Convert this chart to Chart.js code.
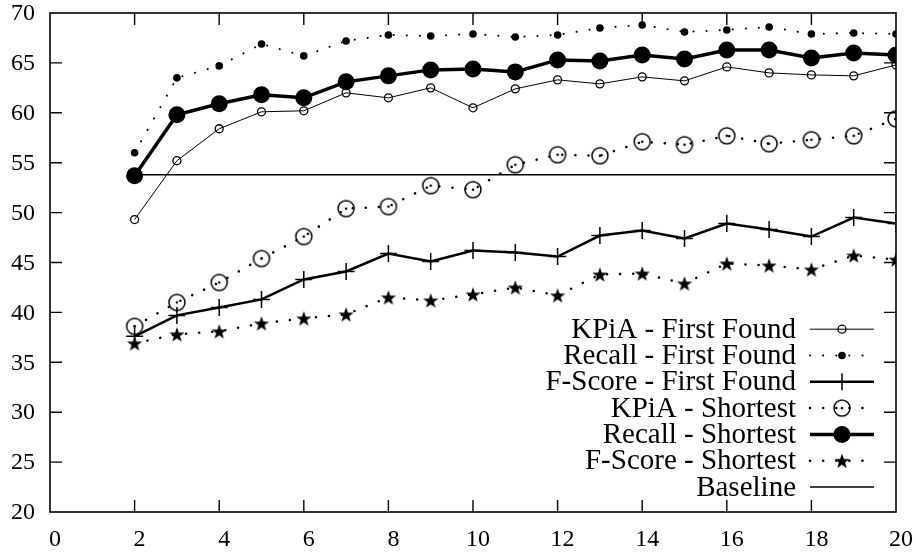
<!DOCTYPE html>
<html>
<head>
<meta charset="utf-8">
<script src="https://cdn.jsdelivr.net/npm/chart.js@4.4.1/dist/chart.umd.min.js"></script>
<style>
  body { margin: 0; background: #fff; font-family: 'Liberation Serif'; }
  #wrap { width: 916px; height: 556px; position: relative; }
  #fontwarm { position: absolute; left: -9999px; top: 0; font: 24px 'Liberation Serif'; }
</style>
</head>
<body>
<div id="wrap"><canvas id="myChart" width="916" height="556"></canvas></div>
<span id="fontwarm">KPiA - First Found 0123456789</span>
<script>
// data
var xValues = [2, 3, 4, 5, 6, 7, 8, 9, 10, 11, 12, 13, 14, 15, 16, 17, 18, 19, 20];
var kpiaFirst = [49.3, 55.2, 58.4, 60.1, 60.2, 62.0, 61.5, 62.5, 60.5, 62.4, 63.3, 62.9, 63.6, 63.2, 64.6, 64.0, 63.8, 63.7, 64.8];
var recallFirst = [56.0, 63.5, 64.7, 66.9, 65.7, 67.2, 67.8, 67.7, 67.9, 67.6, 67.8, 68.5, 68.8, 68.1, 68.3, 68.6, 67.9, 68.0, 67.9];
var fscoreFirst = [37.6, 39.7, 40.5, 41.3, 43.3, 44.1, 45.9, 45.1, 46.2, 46.0, 45.6, 47.7, 48.2, 47.4, 48.9, 48.3, 47.6, 49.5, 48.9];
var kpiaShortest = [38.6, 41.0, 43.0, 45.4, 47.6, 50.4, 50.6, 52.7, 52.3, 54.8, 55.8, 55.7, 57.1, 56.8, 57.7, 56.9, 57.3, 57.7, 59.4];
var recallShortest = [53.7, 59.8, 60.9, 61.8, 61.5, 63.1, 63.7, 64.3, 64.4, 64.1, 65.3, 65.2, 65.8, 65.4, 66.3, 66.3, 65.5, 66.0, 65.8];
var fscoreShortest = [36.9, 37.8, 38.1, 38.9, 39.4, 39.8, 41.5, 41.2, 41.8, 42.5, 41.7, 43.8, 43.9, 42.9, 44.9, 44.7, 44.3, 45.7, 45.3];
var baselineX = [2, 20];
var baselineY = [53.8, 53.8];
var seriesNames = ["KPiA - First Found", "Recall - First Found", "F-Score - First Found",
                   "KPiA - Shortest", "Recall - Shortest", "F-Score - Shortest", "Baseline"];

var FONT = "'Liberation Serif'";

function pts(xs, ys) {
    return xs.map(function (x, i) { return { x: x, y: ys[i] }; });
}

// circle with a dot in the middle
function dottedCircle() {
    var c = document.createElement("canvas");
    c.width = 20; c.height = 20;
    var g = c.getContext("2d");
    g.strokeStyle = "#000";
    g.lineWidth = 1.5;
    g.beginPath(); g.arc(10, 10, 8, 0, Math.PI * 2); g.stroke();
    g.fillStyle = "#000";
    g.beginPath(); g.arc(10, 10, 1.3, 0, Math.PI * 2); g.fill();
    return c;
}

// filled five point star
function filledStar() {
    var c = document.createElement("canvas");
    c.width = 18; c.height = 18;
    var g = c.getContext("2d");
    g.fillStyle = "#000";
    g.beginPath();
    for (var i = 0; i < 10; i++) {
        var r = i % 2 === 0 ? 8 : 3.2;
        var a = -Math.PI / 2 + i * Math.PI / 5;
        var px = 9 + r * Math.cos(a), py = 9.8 + r * Math.sin(a);
        if (i === 0) g.moveTo(px, py); else g.lineTo(px, py);
    }
    g.closePath(); g.fill();
    return c;
}

var dots = [0.1, 13];

var datasets = [
    { label: seriesNames[0], data: pts(xValues, kpiaFirst), borderWidth: 1, borderColor: "#000",
      pointStyle: "circle", pointRadius: 4, pointBorderWidth: 1.3, pointBackgroundColor: "rgba(0,0,0,0)", pointBorderColor: "#000" },
    { label: seriesNames[1], data: pts(xValues, recallFirst), borderWidth: 2, borderColor: "#000", borderDash: dots, borderCapStyle: "round",
      pointStyle: "circle", pointRadius: 3.8, pointBorderWidth: 0, pointBackgroundColor: "#000", pointBorderColor: "#000" },
    { label: seriesNames[2], data: pts(xValues, fscoreFirst), borderWidth: 2.5, borderColor: "#000",
      pointStyle: "cross", pointRadius: 8.5, pointBorderWidth: 1.5, pointBackgroundColor: "#000", pointBorderColor: "#000" },
    { label: seriesNames[3], data: pts(xValues, kpiaShortest), borderWidth: 2.5, borderColor: "#000", borderDash: dots, borderCapStyle: "round",
      pointStyle: dottedCircle(), pointRadius: 8 },
    { label: seriesNames[4], data: pts(xValues, recallShortest), borderWidth: 3.5, borderColor: "#000",
      pointStyle: "circle", pointRadius: 8.5, pointBorderWidth: 0, pointBackgroundColor: "#000", pointBorderColor: "#000" },
    { label: seriesNames[5], data: pts(xValues, fscoreShortest), borderWidth: 2.5, borderColor: "#000", borderDash: dots, borderCapStyle: "round",
      pointStyle: filledStar(), pointRadius: 8 },
    { label: seriesNames[6], data: pts(baselineX, baselineY), borderWidth: 1.5, borderColor: "#000",
      pointRadius: 0 }
];

function drawMarker(ctx, ds, x, y) {
    var st = ds.pointStyle, r = ds.pointRadius || 0;
    if (!r) return;
    ctx.save();
    if (st instanceof HTMLCanvasElement) {
        ctx.drawImage(st, x - st.width / 2, y - st.height / 2);
    } else if (st === "circle") {
        ctx.beginPath();
        ctx.arc(x, y, r, 0, Math.PI * 2);
        ctx.fillStyle = ds.pointBackgroundColor;
        ctx.fill();
        if (ds.pointBorderWidth > 0) {
            ctx.lineWidth = ds.pointBorderWidth;
            ctx.strokeStyle = ds.pointBorderColor;
            ctx.stroke();
        }
    } else if (st === "cross") {
        ctx.beginPath();
        ctx.moveTo(x, y - r); ctx.lineTo(x, y + r);
        ctx.moveTo(x - r, y); ctx.lineTo(x + r, y);
        ctx.lineWidth = ds.pointBorderWidth;
        ctx.strokeStyle = ds.pointBorderColor;
        ctx.stroke();
    }
    ctx.restore();
}

// box, inward ticks, tick labels and the legend inside the plot
var framePlugin = {
    id: "frame",
    beforeDatasetsDraw: function (chart) {
        var ctx = chart.ctx, a = chart.chartArea;
        var xs = chart.scales.x, ys = chart.scales.y;
        ctx.save();
        ctx.strokeStyle = "#000";
        ctx.lineWidth = 1.6;
        ctx.strokeRect(a.left, a.top, a.right - a.left, a.bottom - a.top);
        ctx.lineWidth = 1.4;
        ctx.beginPath();
        xs.ticks.forEach(function (t) {
            if (t.value <= xs.min || t.value >= xs.max) return;
            var px = xs.getPixelForValue(t.value);
            ctx.moveTo(px, a.bottom); ctx.lineTo(px, a.bottom - 12);
            ctx.moveTo(px, a.top); ctx.lineTo(px, a.top + 12);
        });
        ys.ticks.forEach(function (t) {
            if (t.value <= ys.min || t.value >= ys.max) return;
            var py = ys.getPixelForValue(t.value);
            ctx.moveTo(a.left, py); ctx.lineTo(a.left + 12, py);
            ctx.moveTo(a.right, py); ctx.lineTo(a.right - 12, py);
        });
        ctx.stroke();

        ctx.fillStyle = "#000";
        ctx.font = "24px " + FONT;
        ctx.textBaseline = "middle";
        ctx.textAlign = "center";
        xs.ticks.forEach(function (t) {
            ctx.fillText(String(t.value), xs.getPixelForValue(t.value) + 5, a.bottom + 28);
        });
        ctx.textAlign = "right";
        ys.ticks.forEach(function (t) {
            ctx.fillText(String(t.value), a.left - 15, ys.getPixelForValue(t.value) + 1);
        });
        ctx.restore();
    },
    afterDraw: function (chart) {
        var ctx = chart.ctx, a = chart.chartArea;
        var dsets = chart.data.datasets;
        var textRight = a.right - 100, lineL = a.right - 86, lineR = a.right - 22, mid = a.right - 54;
        var step = 26.3;
        var y0 = a.bottom - 25 - step * (dsets.length - 1);
        ctx.save();
        ctx.font = "29px " + FONT;
        ctx.textAlign = "right";
        ctx.textBaseline = "middle";
        dsets.forEach(function (ds, i) {
            var y = y0 + i * step;
            ctx.fillStyle = "#000";
            ctx.fillText(ds.label, textRight, y + 1);
            ctx.save();
            ctx.strokeStyle = "#000";
            ctx.lineWidth = ds.borderWidth;
            ctx.lineCap = ds.borderCapStyle || "butt";
            ctx.setLineDash(ds.borderDash || []);
            ctx.beginPath();
            ctx.moveTo(lineL, y); ctx.lineTo(lineR, y);
            ctx.stroke();
            ctx.restore();
            drawMarker(ctx, ds, mid, y);
        });
        ctx.restore();
    }
};

var ctx = document.getElementById("myChart").getContext("2d");
var myChart = new Chart(ctx, {
    type: "line",
    data: { datasets: datasets },
    options: {
        responsive: false,
        animation: false,
        layout: { padding: { top: 13, right: 20, left: 50, bottom: 44 } },
        plugins: { legend: { display: false }, tooltip: { enabled: false } },
        scales: {
            x: {
                type: "linear",
                min: 0, max: 20,
                afterFit: function (s) { s.height = 0; },
                grid: { display: false, drawTicks: false },
                border: { display: false },
                ticks: { stepSize: 2, display: false }
            },
            y: {
                min: 20, max: 70,
                afterFit: function (s) { s.width = 0; },
                grid: { display: false, drawTicks: false },
                border: { display: false },
                ticks: { stepSize: 5, display: false }
            }
        }
    },
    plugins: [framePlugin]
});

// redraw once the font is surely in place
if (document.fonts && document.fonts.load) {
    document.fonts.load("24px 'Liberation Serif'").then(function () { myChart.draw(); });
}
window.addEventListener("load", function () { myChart.draw(); });
</script>
</body>
</html>
